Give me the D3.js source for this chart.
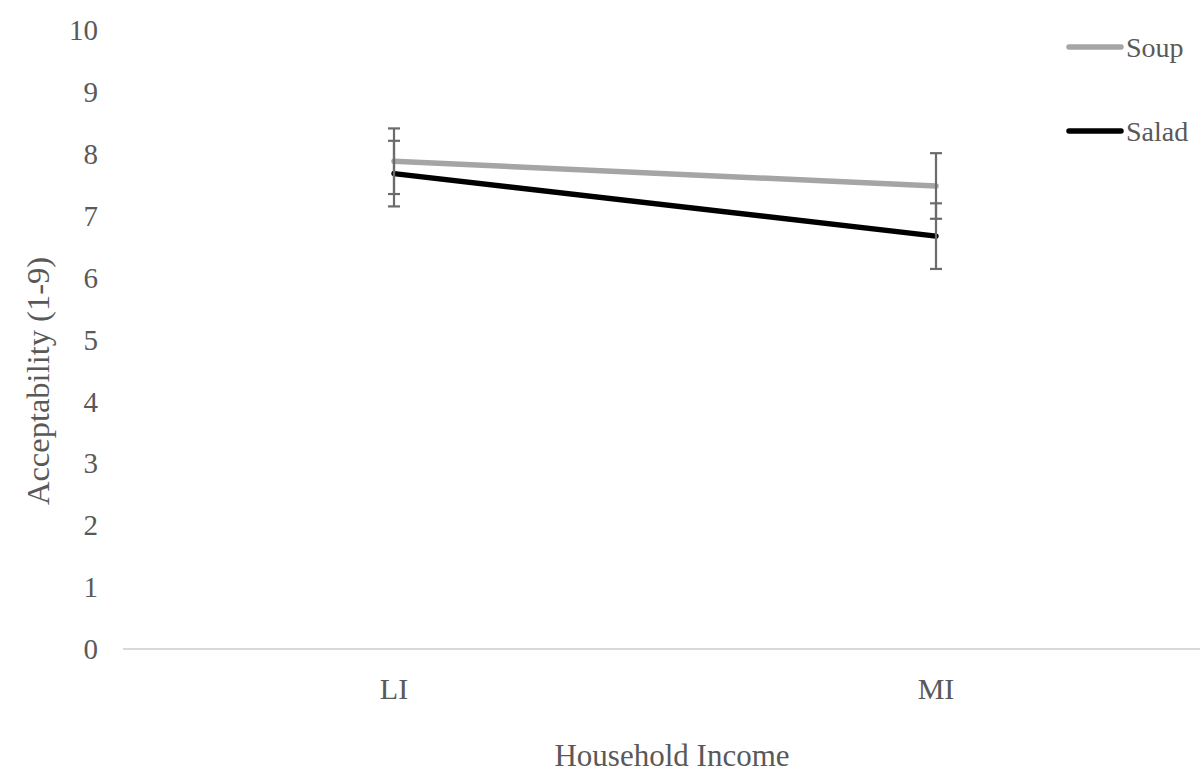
<!DOCTYPE html>
<html><head><meta charset="utf-8">
<script src="https://cdn.jsdelivr.net/npm/d3@7"></script>
<style>body{margin:0;background:#fff}svg{display:block}</style>
</head><body>
<script>
const categories = ["LI", "MI"];
const seriesNames = ["Soup", "Salad"];
const soupValues = [7.88, 7.48];
const saladValues = [7.68, 6.67];
const soupErrors = [0.53, 0.53];
const saladErrors = [0.53, 0.53];
const yTicks = [0,1,2,3,4,5,6,7,8,9,10];

const W = 1200, H = 778;
const svg = d3.select("body").append("svg").attr("width", W).attr("height", H);
const font = "'Liberation Serif','Times New Roman',serif";
const textColor = "#595959";

const x = d3.scaleBand().domain(categories).range([123, 1207]);
const y = d3.scaleLinear().domain([0, 10]).range([649, 30]);
const cx = d => x(d) + x.bandwidth() / 2;

// y tick labels
svg.append("g").selectAll("text").data(yTicks).join("text")
  .attr("x", 98).attr("y", d => y(d)).attr("dy", "0.35em")
  .attr("text-anchor", "end").attr("font-family", font).attr("font-size", 29)
  .attr("fill", textColor).text(d => d);

// x axis line
svg.append("line").attr("x1", x.range()[0]).attr("x2", x.range()[1])
  .attr("y1", y(0)).attr("y2", y(0)).attr("stroke", "#d9d9d9").attr("stroke-width", 2);

// x labels
svg.append("g").selectAll("text").data(categories).join("text")
  .attr("x", d => cx(d)).attr("y", 688).attr("dy", "0.35em")
  .attr("text-anchor", "middle").attr("font-family", font).attr("font-size", 30)
  .attr("fill", textColor).text(d => d);

// axis titles
svg.append("text").attr("x", 672).attr("y", 755).attr("dy", "0.35em")
  .attr("text-anchor", "middle").attr("font-family", font).attr("font-size", 31)
  .attr("fill", textColor).text("Household Income");
svg.append("text").attr("transform", "translate(38,381) rotate(-90)").attr("dy", "0.35em")
  .attr("text-anchor", "middle").attr("font-family", font).attr("font-size", 32.5)
  .attr("fill", textColor).text("Acceptability  (1-9)");

const series = [
  {name: "Soup", values: soupValues, errors: soupErrors, color: "#a5a5a5"},
  {name: "Salad", values: saladValues, errors: saladErrors, color: "#000000"}
];

const line = d3.line().x((d, i) => cx(categories[i])).y(d => y(d));

series.forEach(s => {
  svg.append("path").datum(s.values).attr("d", line).attr("fill", "none")
    .attr("stroke", s.color).attr("stroke-width", 5.5).attr("stroke-linecap", "round");
});

// error bars
series.forEach(s => {
  const g = svg.append("g").attr("stroke", "#6b6b6b").attr("stroke-width", 2.2);
  s.values.forEach((v, i) => {
    const px = cx(categories[i]);
    const lo = y(v - s.errors[i]), hi = y(v + s.errors[i]);
    g.append("line").attr("x1", px).attr("x2", px).attr("y1", lo).attr("y2", hi);
    g.append("line").attr("x1", px - 6).attr("x2", px + 6).attr("y1", lo).attr("y2", lo);
    g.append("line").attr("x1", px - 6).attr("x2", px + 6).attr("y1", hi).attr("y2", hi);
  });
});

// legend
const legY = [47, 131];
series.forEach((s, i) => {
  svg.append("line").attr("x1", 1069).attr("x2", 1121).attr("y1", legY[i]).attr("y2", legY[i])
    .attr("stroke", s.color).attr("stroke-width", 5.5).attr("stroke-linecap", "round");
  svg.append("text").attr("x", 1126).attr("y", legY[i]).attr("dy", "0.35em")
    .attr("font-family", font).attr("font-size", 28).attr("fill", textColor).text(s.name);
});
</script>
</body></html>
